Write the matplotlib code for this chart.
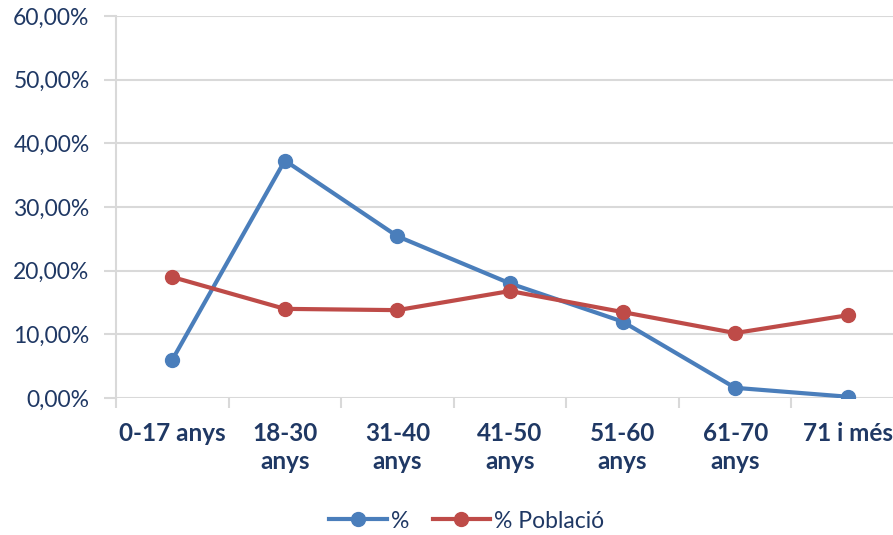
import matplotlib.pyplot as plt
from matplotlib.ticker import FuncFormatter, FixedLocator

categories = ["0-17 anys", "18-30\nanys", "31-40\nanys", "41-50\nanys",
              "51-60\nanys", "61-70\nanys", "71 i més"]
pct = [6.0, 37.3, 25.4, 18.0, 12.0, 1.6, 0.2]
pct_poblacio = [19.0, 14.0, 13.8, 16.8, 13.5, 10.2, 13.0]

navy = "#1F3864"
grid_col = "#D9D9D9"
blue = "#4A7EBB"
red = "#BE4B48"

plt.rcParams['font.family'] = ['Lato', 'DejaVu Sans']

fig = plt.figure(figsize=(8.93, 5.35), dpi=100)
ax = fig.add_axes([116 / 893, 1 - 398 / 535, 788 / 893, 382 / 535])

x = list(range(len(categories)))
ax.plot(x, pct, color=blue, lw=3, marker="o", ms=10, label="%")
ax.plot(x, pct_poblacio, color=red, lw=3, marker="o", ms=10, label="% Població")

ax.set_xlim(-0.5, len(categories) - 0.5)
ax.set_ylim(0, 60)
ax.set_yticks(range(0, 61, 10))
ax.yaxis.set_major_formatter(FuncFormatter(lambda v, p: f"{v:.2f}%".replace(".", ",")))
ax.yaxis.grid(True, color=grid_col, lw=1.5)
ax.set_axisbelow(True)

# category labels centred, tick marks at boundaries
ax.xaxis.set_major_locator(FixedLocator([i - 0.5 for i in range(len(categories) + 1)]))
ax.xaxis.set_major_formatter(FuncFormatter(lambda v, p: ""))
ax.xaxis.set_minor_locator(FixedLocator(x))
ax.set_xticklabels(categories, minor=True, fontsize=17.5, fontweight="bold",
                   color=navy, linespacing=1.3)
ax.tick_params(axis="x", which="minor", length=0, pad=17)
ax.tick_params(axis="x", which="major", length=7, width=1.5, color=grid_col)
ax.tick_params(axis="y", length=9, width=1.5, color=grid_col, labelsize=16.5,
               labelcolor=navy, pad=10)

for s in ["top", "right", "bottom"]:
    ax.spines[s].set_visible(False)
ax.spines["left"].set_color(grid_col)
ax.spines["left"].set_linewidth(1.5)

fig.legend(loc="center", bbox_to_anchor=(467 / 893, 1 - 521 / 535), ncol=2,
           frameon=False, fontsize=16.5, handlelength=2.5, columnspacing=1.0,
           handletextpad=0.2, labelcolor=navy)

fig.savefig("out.png", dpi=100)
